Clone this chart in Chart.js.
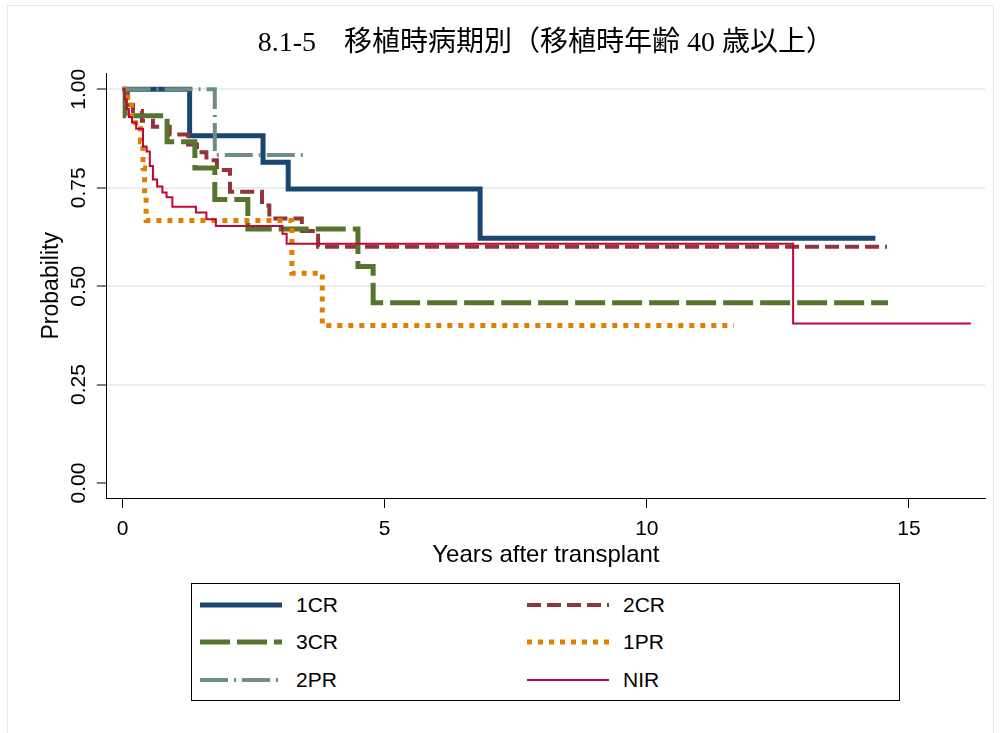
<!DOCTYPE html>
<html>
<head>
<meta charset="utf-8">
<script src="https://cdn.jsdelivr.net/npm/chart.js@4.4.1/dist/chart.umd.min.js"></script>
<style>
    html, body { margin: 0; padding: 0; background: #fff; }
    #wrap { position: relative; width: 1000px; height: 733px; overflow: hidden; }
    #frame { position: absolute; left: 7px; top: 5px; width: 985px; height: 760px; border: 1px solid #e2e9ec; }
    #grafico { position: absolute; left: 0; top: 0; }
    #legenda { position: absolute; left: 191px; top: 583px; width: 707px; height: 116px; border: 1px solid #000; background: #fff; }
    .item { position: absolute; height: 24px; display: flex; align-items: center; font: 21px "Liberation Sans", Arial, sans-serif; color: #000; white-space: nowrap; }
    .item svg { margin-right: 14px; flex: none; }
</style>
</head>
<body>
<div id="wrap">
    <div id="frame"></div>
    <canvas id="grafico" width="1000" height="733"></canvas>
    <div id="legenda"></div>
</div>
<script>
// tick labels
const xTicks = [0, 5, 10, 15];
const yTicks = [0, 0.25, 0.5, 0.75, 1];

// Kaplan-Meier steps: years / probability
const t1CR = [0, 1.28, 2.68, 3.16, 6.82, 14.36];
const s1CR = [1, 0.882, 0.815, 0.747, 0.622, 0.622];

const t2CR = [0, 0.1, 0.2, 0.37, 0.58, 0.9, 1.25, 1.42, 1.6, 1.8, 2.05, 2.66, 2.8, 3.42, 3.73, 14.58];
const s2CR = [1, 0.96, 0.945, 0.92, 0.905, 0.885, 0.86, 0.84, 0.82, 0.795, 0.74, 0.705, 0.672, 0.64, 0.6, 0.6];

const t3CR = [0, 0.05, 0.85, 1.38, 1.76, 2.39, 4.49, 4.78, 14.6];
const s3CR = [1, 0.933, 0.867, 0.8, 0.72, 0.645, 0.55, 0.458, 0.458];

const t1PR = [0, 0.1, 0.17, 0.25, 0.34, 0.39, 0.42, 0.45, 3.23, 3.81, 11.66];
const s1PR = [1, 0.967, 0.933, 0.9, 0.867, 0.8, 0.733, 0.667, 0.533, 0.4, 0.4];

const t2PR = [0, 1.76, 3.52];
const s2PR = [1, 0.833, 0.833];

const tNIR = [0, 0.04, 0.08, 0.12, 0.18, 0.26, 0.39, 0.46, 0.52, 0.58, 0.66, 0.76, 0.84, 0.95, 1.4, 1.6, 1.78, 3.05, 3.13, 12.79, 16.18];
const sNIR = [1, 0.975, 0.95, 0.93, 0.916, 0.9, 0.855, 0.842, 0.805, 0.771, 0.753, 0.738, 0.726, 0.702, 0.687, 0.67, 0.653, 0.633, 0.608, 0.405, 0.405];

const pontos = (t, s) => t.map((v, i) => ({ x: v, y: s[i] }));

function serie(label, t, s, cor, largura, traco, ordem) {
    return {
        label: label,
        data: pontos(t, s),
        borderColor: cor,
        backgroundColor: cor,
        borderWidth: largura,
        borderDash: traco,
        borderCapStyle: "butt",
        borderJoinStyle: "miter",
        stepped: "before",
        pointRadius: 0,
        fill: false,
        order: ordem
    };
}

const datasets = [
    serie("1CR", t1CR, s1CR, "#1a476f", 5, [], 6),
    serie("2CR", t2CR, s2CR, "#90353b", 4, [14, 6], 5),
    serie("3CR", t3CR, s3CR, "#55752f", 5, [30, 7], 4),
    serie("1PR", t1PR, s1PR, "#e37e00", 5, [5, 6], 3),
    serie("2PR", t2PR, s2PR, "#6e8e84", 4, [28, 6, 2, 6], 2),
    serie("NIR", tNIR, sNIR, "#c10534", 2, [], 1)
];

const fonteEixo = { family: "'Liberation Sans', Arial, sans-serif", size: 21 };

const ctx = document.getElementById("grafico").getContext("2d");
const chart = new Chart(ctx, {
    type: "line",
    data: { datasets: datasets },
    options: {
        responsive: false,
        animation: false,
        layout: { padding: { left: 38, right: 15, top: 14, bottom: 163 } },
        plugins: {
            legend: { display: false },
            tooltip: { enabled: false },
            title: {
                display: true,
                text: "8.1-5　移植時病期別（移植時年齢 40 歳以上）",
                color: "#000",
                fullSize: false,
                font: { family: "'Liberation Serif', 'DejaVu Serif', 'Noto Sans CJK JP', serif", size: 28, weight: "normal" },
                padding: { top: 13, bottom: 13 }
            }
        },
        scales: {
            x: {
                type: "linear",
                min: -0.3,
                max: 16.45,
                afterBuildTicks: s => { s.ticks = xTicks.map(v => ({ value: v })); },
                ticks: { color: "#000", font: fonteEixo, padding: 9, maxRotation: 0, callback: v => String(v) },
                grid: { drawOnChartArea: false, tickLength: 10, tickColor: "#000", tickWidth: 1 },
                border: { display: true, color: "#000", width: 1 },
                title: {
                    display: true,
                    text: "Years after transplant",
                    color: "#000",
                    font: { family: "'Liberation Sans', Arial, sans-serif", size: 24 },
                    padding: { top: -10, bottom: 0 }
                }
            },
            y: {
                type: "linear",
                min: -0.038,
                max: 1.04,
                afterBuildTicks: s => { s.ticks = yTicks.map(v => ({ value: v })); },
                ticks: {
                    color: "#000",
                    font: fonteEixo,
                    padding: -3,
                    minRotation: 90,
                    maxRotation: 90,
                    crossAlign: "center",
                    callback: v => Number(v).toFixed(2)
                },
                grid: {
                    color: c => (c.tick && c.tick.value === 0) ? "rgba(0,0,0,0)" : "#e6eef1",
                    lineWidth: 2,
                    tickLength: 10,
                    tickColor: "#000",
                    tickWidth: 1
                },
                border: { display: true, color: "#000", width: 1 },
                title: {
                    display: true,
                    text: "Probability",
                    color: "#000",
                    font: { family: "'Liberation Sans', Arial, sans-serif", size: 23 },
                    padding: { top: 0, bottom: 12 }
                }
            }
        }
    }
});

function criarLegenda() {
    const caixa = document.getElementById("legenda");
    const colunas = [8, 335];
    const linhas = [9, 46, 84];
    chart.data.datasets.forEach((ds, i) => {
        const item = document.createElement("div");
        item.className = "item";
        item.style.left = colunas[i % 2] + "px";
        item.style.top = linhas[Math.floor(i / 2)] + "px";
        const dash = ds.borderDash.length ? ` stroke-dasharray="${ds.borderDash.join(" ")}"` : "";
        item.innerHTML = `<svg width="82" height="24"><line x1="0" y1="12" x2="82" y2="12" stroke="${ds.borderColor}" stroke-width="${ds.borderWidth}"${dash}/></svg><span>${ds.label}</span>`;
        caixa.appendChild(item);
    });
}

criarLegenda();
</script>
</body>
</html>
